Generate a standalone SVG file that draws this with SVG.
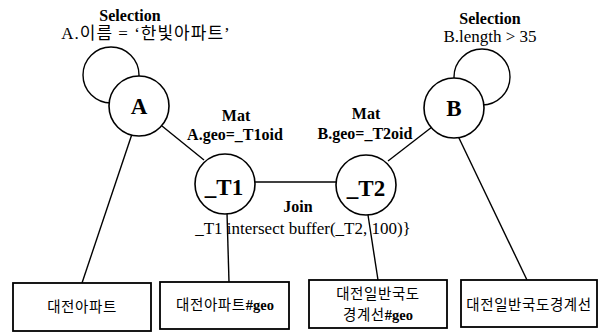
<svg xmlns="http://www.w3.org/2000/svg" width="600" height="332" viewBox="0 0 600 332">
<style>
.c{fill:#fff;stroke:#000;stroke-width:1.6}
.loop{fill:none;stroke:#000;stroke-width:1.4}
.b{fill:#fff;stroke:#000;stroke-width:1.8}
.e{stroke:#000;stroke-width:1.4;fill:none}
.lb{font-family:"Liberation Serif","Noto Sans CJK KR",serif;font-weight:bold;font-size:16px;text-anchor:middle;fill:#000}
.lr{font-family:"Liberation Serif","Noto Sans CJK KR",serif;font-size:17px;text-anchor:middle;fill:#000}
.nl{font-family:"Liberation Serif",serif;font-weight:bold;font-size:23px;text-anchor:middle;fill:#000}
.kt{font-family:"Noto Sans CJK KR","Noto Sans",sans-serif;font-size:14.5px;letter-spacing:0.6px;text-anchor:middle;fill:#000}
.geo{font-family:"Liberation Serif",serif;font-weight:bold;letter-spacing:0}
</style>
<rect width="600" height="332" fill="#fff"/>
<g id="connectors">
<line class="e" x1="162" y1="126" x2="204" y2="160"/>
<line class="e" x1="432" y1="127" x2="388" y2="161"/>
<line class="e" x1="255" y1="182" x2="336" y2="182"/>
<line class="e" x1="132" y1="134" x2="82" y2="283"/>
<line class="e" x1="227" y1="213" x2="229" y2="282"/>
<line class="e" x1="368" y1="215" x2="378" y2="280"/>
<line class="e" x1="458" y1="136" x2="527" y2="280"/>
</g>
<g id="A">
<circle class="loop" cx="111" cy="75" r="28"/>
<circle class="c" cx="139" cy="106" r="30"/>
<text class="nl" x="139" y="114">A</text>
<text class="lb" x="130" y="21" font-size="16.5">Selection</text>
<text class="lr" x="146" y="39" letter-spacing="1">A.이름 = ‘한빛아파트’</text>
</g>
<g id="B">
<circle class="loop" cx="482" cy="77" r="28"/>
<circle class="c" cx="454" cy="108" r="30"/>
<text class="nl" x="454" y="116">B</text>
<text class="lb" x="490" y="24" font-size="16.5">Selection</text>
<text class="lr" x="490" y="42">B.length &gt; 35</text>
</g>
<g id="T1">
<circle class="c" cx="225" cy="184" r="30"/>
<text class="nl" x="224" y="195" font-size="24">_T1</text>
<text class="lb" x="236" y="121">Mat</text>
<text class="lb" x="235" y="140">A.geo=_T1oid</text>
</g>
<g id="T2">
<circle class="c" cx="366" cy="185" r="30"/>
<text class="nl" x="366" y="196" font-size="24">_T2</text>
<text class="lb" x="366" y="119">Mat</text>
<text class="lb" x="365" y="139">B.geo=_T2oid</text>
</g>
<g id="join">
<text class="lb" x="298" y="212">Join</text>
<text class="lr" x="303" y="234" font-size="17.5">_T1  intersect buffer(_T2, 100)}</text>
</g>
<g id="box1">
<rect class="b" x="13" y="283" width="138" height="48"/>
<text class="kt" x="82" y="312">대전아파트</text>
</g>
<g id="box2">
<rect class="b" x="160" y="282" width="129" height="47"/>
<text class="kt" x="225" y="310">대전아파트<tspan class="geo">#geo</tspan></text>
</g>
<g id="box3">
<rect class="b" x="309" y="280" width="138" height="48"/>
<text class="kt" x="378" y="299">대전일반국도</text>
<text class="kt" x="378" y="320">경계선<tspan class="geo">#geo</tspan></text>
</g>
<g id="box4">
<rect class="b" x="461" y="280" width="136" height="47"/>
<text class="kt" x="529" y="310">대전일반국도경계선</text>
</g>
</svg>
